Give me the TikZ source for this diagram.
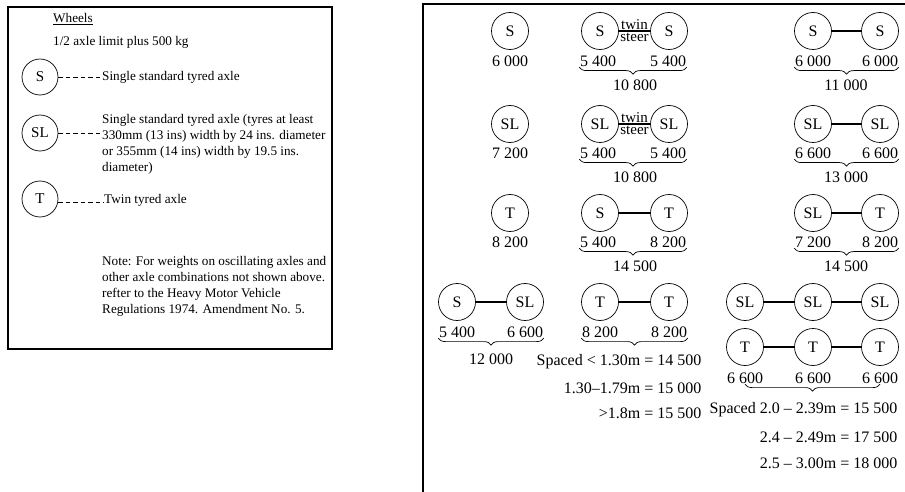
\documentclass[tikz,border=0pt]{standalone}
\usepackage{fontspec}
\setmainfont{Liberation Serif}
\usetikzlibrary{decorations.pathreplacing}
\begin{document}
\begin{tikzpicture}[x=1pt,y=-1pt,
  axle/.style={circle,draw,line width=0.7pt,minimum size=37pt,inner sep=0pt,font=\fontsize{16}{18}\selectfont},
  kaxle/.style={axle,minimum size=36pt,font=\fontsize{15}{17}\selectfont},
  lbl/.style={font=\fontsize{16}{18}\selectfont,inner sep=0.5pt},
  small/.style={font=\fontsize{15}{16}\selectfont,inner sep=1.6pt},
  txt/.style={font=\fontsize{13.2}{16.2}\selectfont,align=left,inner sep=0pt},
  link/.style={line width=1.4pt},
  brc/.style={decorate,decoration={brace,mirror,amplitude=7pt},line width=0.7pt},
  frame/.style={line width=1.7pt},
  lead/.style={dash pattern=on 4.5pt off 3pt,line width=0.7pt}
]
\useasboundingbox (0,0) rectangle (905,492);
% frames
\draw[frame] (8,7) rectangle (332,349);
\begin{scope}
\clip (0,0) rectangle (905,492);
\draw[frame] (423,510) -- (423,4) -- (915,4);
\end{scope}

% ---------- left box ----------
\node[txt,anchor=west] (wh) at (53,19) {\underline{Wheels}};
\node[txt,anchor=west] (half) at (53,42) {1/2 axle limit plus 500 kg};
\node[kaxle] (kS) at (40,77) {S};
\node[txt,anchor=west] (kSt) at (102,77) {Single standard tyred axle};
\draw[lead] (kS.east) -- (kSt.west);
\node[kaxle] (kSL) at (40,133) {SL};
\node[txt,anchor=north west] (kSLt) at (102,114) {Single standard tyred axle (tyres at least\\330mm (13 ins) width by 24 ins. diameter\\or 355mm (14 ins) width by 19.5 ins.\\diameter)};
\draw[lead] (kSL.east) -- (kSL.east -| kSLt.west);
\node[kaxle] (kT) at (40,199) {T};
\node[txt,anchor=base west] (kTt) at (104,203) {Twin tyred axle};
\draw[lead] (kT.-10) -- (kT.-10 -| kTt.west);
\node[txt,anchor=north west] (note) at (102,256) {Note: For weights on oscillating axles and\\other axle combinations not shown above.\\refter to the Heavy Motor Vehicle\\Regulations 1974. Amendment No. 5.};

% ---------- right box ----------
% row 1
\node[axle] (a1) at (510,31) {S};
\node[lbl] (a1l) at (510,61) {6 000};
\node[axle] (b1) at (600,31) {S};
\node[axle] (c1) at (669,31) {S};
\draw[link] (b1) -- (c1);
\path (b1) -- node[small,anchor=south] {twin} node[small,anchor=north] {steer} (c1);
\node[lbl] (b1l) at (598,61) {5 400};
\node[lbl] (c1l) at (668,61) {5 400};
\draw[brc] (b1l.south west) -- (c1l.south east);
\node[lbl] (bc1t) at (635,85) {10 800};
\node[axle] (d1) at (813,31) {S};
\node[axle] (e1) at (880,31) {S};
\draw[link] (d1) -- (e1);
\node[lbl] (d1l) at (813,61) {6 000};
\node[lbl] (e1l) at (880,61) {6 000};
\draw[brc] (d1l.south west) -- (e1l.south east);
\node[lbl] (de1t) at (846,85) {11 000};

% row 2
\node[axle] (a2) at (510,124) {SL};
\node[lbl] (a2l) at (510,153) {7 200};
\node[axle] (b2) at (600,124) {SL};
\node[axle] (c2) at (669,124) {SL};
\draw[link] (b2) -- (c2);
\path (b2) -- node[small,anchor=south] {twin} node[small,anchor=north] {steer} (c2);
\node[lbl] (b2l) at (598,153) {5 400};
\node[lbl] (c2l) at (668,153) {5 400};
\draw[brc] (b2l.south west) -- (c2l.south east);
\node[lbl] (bc2t) at (635,177) {10 800};
\node[axle] (d2) at (813,124) {SL};
\node[axle] (e2) at (880,124) {SL};
\draw[link] (d2) -- (e2);
\node[lbl] (d2l) at (813,153) {6 600};
\node[lbl] (e2l) at (880,153) {6 600};
\draw[brc] (d2l.south west) -- (e2l.south east);
\node[lbl] (de2t) at (846,177) {13 000};

% row 3
\node[axle] (a3) at (510,213) {T};
\node[lbl] (a3l) at (510,242) {8 200};
\node[axle] (b3) at (600,213) {S};
\node[axle] (c3) at (669,213) {T};
\draw[link] (b3) -- (c3);
\node[lbl] (b3l) at (598,242) {5 400};
\node[lbl] (c3l) at (668,242) {8 200};
\draw[brc] (b3l.south west) -- (c3l.south east);
\node[lbl] (bc3t) at (635,266) {14 500};
\node[axle] (d3) at (813,213) {SL};
\node[axle] (e3) at (880,213) {T};
\draw[link] (d3) -- (e3);
\node[lbl] (d3l) at (813,242) {7 200};
\node[lbl] (e3l) at (880,242) {8 200};
\draw[brc] (d3l.south west) -- (e3l.south east);
\node[lbl] (de3t) at (846,266) {14 500};

% row 4
\node[axle] (f4) at (457,302) {S};
\node[axle] (g4) at (525,302) {SL};
\draw[link] (f4) -- (g4);
\node[lbl] (f4l) at (457,332) {5 400};
\node[lbl] (g4l) at (525,332) {6 600};
\draw[brc] (f4l.south west) -- (g4l.south east);
\node[lbl] (fg4t) at (491,359) {12 000};
\node[axle] (b4) at (600,302) {T};
\node[axle] (c4) at (669,302) {T};
\draw[link] (b4) -- (c4);
\node[lbl] (b4l) at (600,332) {8 200};
\node[lbl] (c4l) at (669,332) {8 200};
\draw[brc] (b4l.south west) -- (c4l.south east);
\node[lbl,anchor=east] (s1) at (702,362) {Spaced < 1.30m = 14 500};
\node[lbl,anchor=east] (s2) at (702,388) {1.30–1.79m = 15 000};
\node[lbl,anchor=east] (s3) at (702,413) {>1.8m = 15 500};
\node[axle] (h4) at (745,302) {SL};
\node[axle] (i4) at (813,302) {SL};
\node[axle] (j4) at (880,302) {SL};
\draw[link] (h4) -- (i4);
\draw[link] (i4) -- (j4);

% row 5
\node[axle] (h5) at (745,347) {T};
\node[axle] (i5) at (813,347) {T};
\node[axle] (j5) at (880,347) {T};
\draw[link] (h5) -- (i5);
\draw[link] (i5) -- (j5);
\node[lbl] (h5l) at (745,378) {6 600};
\node[lbl] (i5l) at (813,378) {6 600};
\node[lbl] (j5l) at (880,378) {6 600};
\draw[brc] (h5l.south) -- (j5l.south);
\node[lbl,anchor=east] (t1) at (898,410) {Spaced 2.0 – 2.39m = 15 500};
\node[lbl,anchor=east] (t2) at (898,437) {2.4 – 2.49m = 17 500};
\node[lbl,anchor=east] (t3) at (898,463) {2.5 – 3.00m = 18 000};
\end{tikzpicture}
\end{document}
